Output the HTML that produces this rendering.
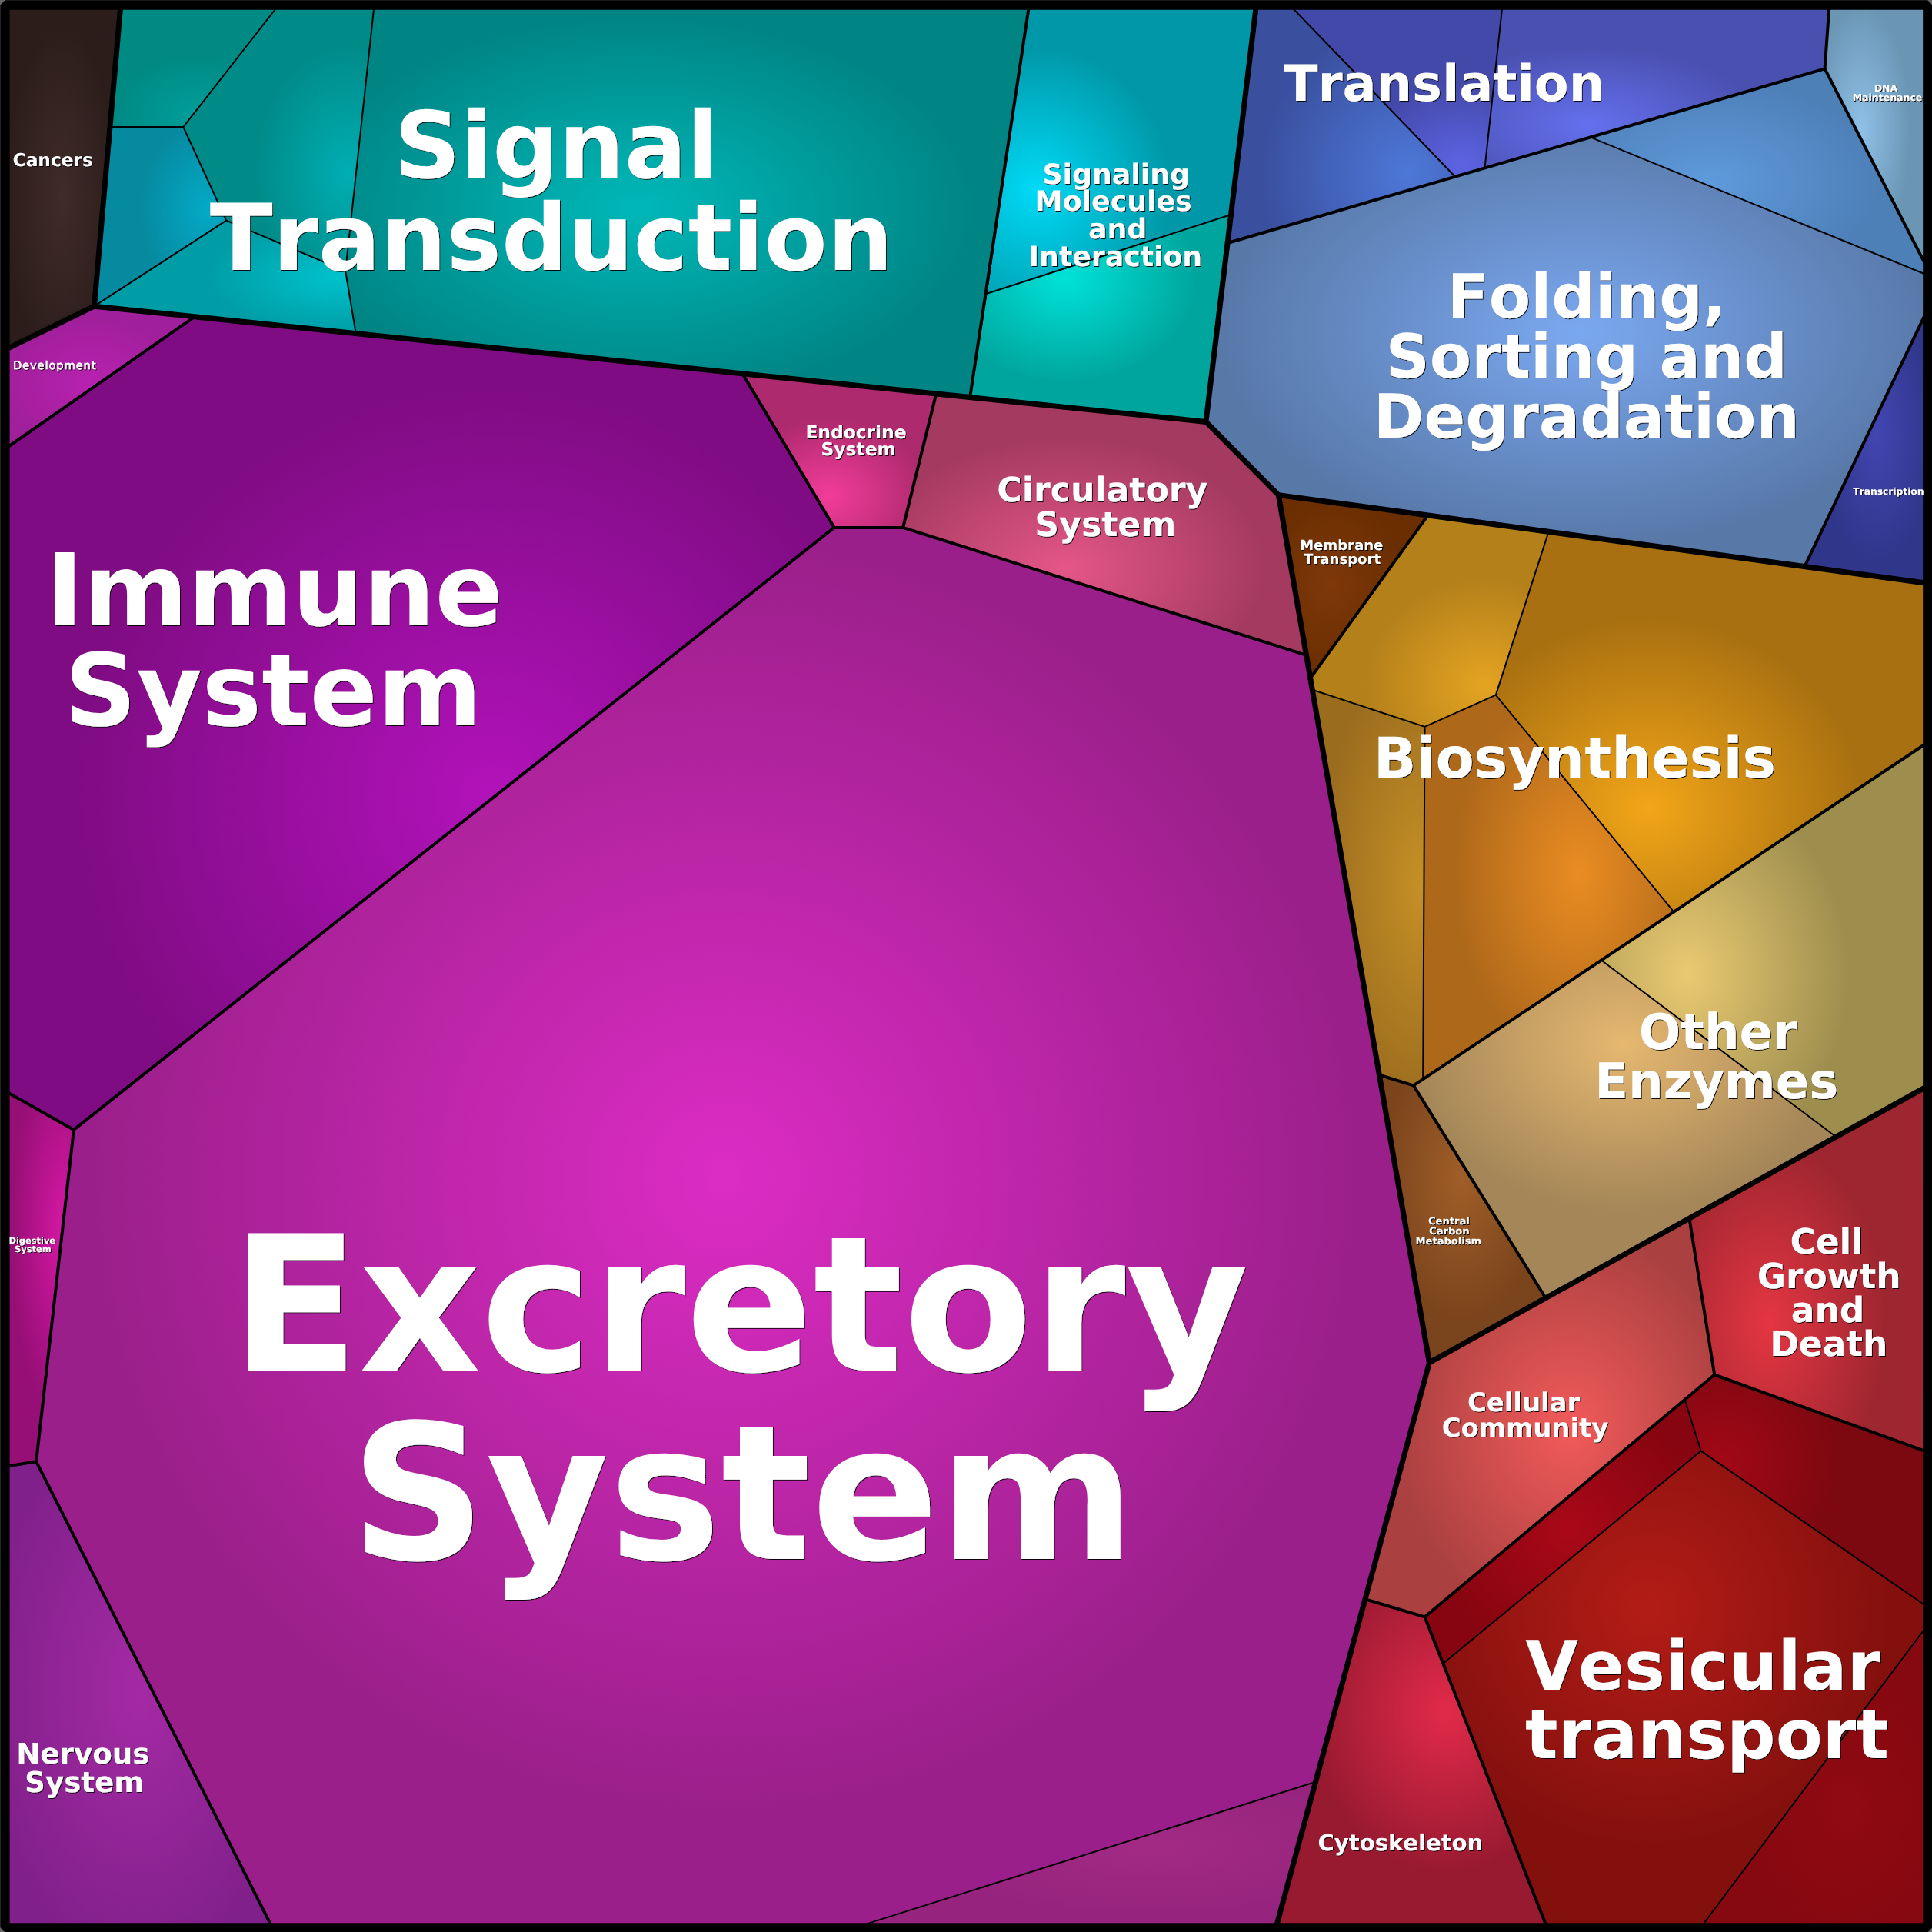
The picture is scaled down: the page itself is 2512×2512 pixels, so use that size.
<!DOCTYPE html>
<html lang="en"><head><meta charset="utf-8"><title>Proteomap</title>
<style>html,body{margin:0;padding:0;background:#676767;}svg{display:block;}text{font-kerning:none;text-rendering:geometricPrecision;font-family:"DejaVu Sans","Liberation Sans",sans-serif;font-weight:bold;text-anchor:middle;}.s{fill:#000;opacity:.92}.t{fill:#fff}</style></head><body>
<svg width="2512" height="2512" viewBox="0 0 2512 2512">
<defs>
<radialGradient id="g_cancers" gradientUnits="userSpaceOnUse" cx="0" cy="0" r="0.500" gradientTransform="translate(80 255) scale(144.0 439.5)"><stop offset="0" stop-color="#402c29"/><stop offset="1" stop-color="#2c1d1b"/></radialGradient>
<radialGradient id="g_sig_a" gradientUnits="userSpaceOnUse" cx="0" cy="0" r="0.500" gradientTransform="translate(255 150) scale(214.9 152.7)"><stop offset="0" stop-color="#009e9a"/><stop offset="1" stop-color="#008a84"/></radialGradient>
<radialGradient id="g_sig_b" gradientUnits="userSpaceOnUse" cx="0" cy="0" r="0.500" gradientTransform="translate(268 272) scale(171.7 233.1)"><stop offset="0" stop-color="#04a9c6"/><stop offset="1" stop-color="#068aa0"/></radialGradient>
<radialGradient id="g_sig_c" gradientUnits="userSpaceOnUse" cx="0" cy="0" r="0.500" gradientTransform="translate(452 225) scale(247.7 340.3)"><stop offset="0" stop-color="#00aeb2"/><stop offset="1" stop-color="#008a88"/></radialGradient>
<radialGradient id="g_sig_d" gradientUnits="userSpaceOnUse" cx="0" cy="0" r="0.500" gradientTransform="translate(440 360) scale(340.2 146.8)"><stop offset="0" stop-color="#00c2cc"/><stop offset="1" stop-color="#009da6"/></radialGradient>
<radialGradient id="g_sig_e" gradientUnits="userSpaceOnUse" cx="0" cy="0" r="0.500" gradientTransform="translate(830 270) scale(888.1 504.1)"><stop offset="0" stop-color="#00b8b8"/><stop offset="1" stop-color="#008484"/></radialGradient>
<radialGradient id="g_sm_a" gradientUnits="userSpaceOnUse" cx="0" cy="0" r="0.500" gradientTransform="translate(1347 247) scale(350.2 369.6)"><stop offset="0" stop-color="#00daf6"/><stop offset="1" stop-color="#0098a8"/></radialGradient>
<radialGradient id="g_sm_b" gradientUnits="userSpaceOnUse" cx="0" cy="0" r="0.500" gradientTransform="translate(1386 361) scale(339.4 269.4)"><stop offset="0" stop-color="#00e2d8"/><stop offset="1" stop-color="#00a69e"/></radialGradient>
<radialGradient id="g_tr_a" gradientUnits="userSpaceOnUse" cx="0" cy="0" r="0.650" gradientTransform="translate(1830 225) scale(295.8 303.6)"><stop offset="0" stop-color="#4d78d8"/><stop offset="1" stop-color="#3a4f9e"/></radialGradient>
<radialGradient id="g_tr_b" gradientUnits="userSpaceOnUse" cx="0" cy="0" r="0.500" gradientTransform="translate(1900 215) scale(270.4 217.3)"><stop offset="0" stop-color="#5d64e4"/><stop offset="1" stop-color="#4349a8"/></radialGradient>
<radialGradient id="g_tr_c" gradientUnits="userSpaceOnUse" cx="0" cy="0" r="0.500" gradientTransform="translate(2066 162) scale(447.6 206.0)"><stop offset="0" stop-color="#6470ee"/><stop offset="1" stop-color="#4a50b0"/></radialGradient>
<radialGradient id="g_fold_a" gradientUnits="userSpaceOnUse" cx="0" cy="0" r="0.500" gradientTransform="translate(2053 432) scale(932.4 557.5)"><stop offset="0" stop-color="#7aa8f0"/><stop offset="1" stop-color="#5878a8"/></radialGradient>
<radialGradient id="g_fold_b" gradientUnits="userSpaceOnUse" cx="0" cy="0" r="0.500" gradientTransform="translate(2225 237) scale(432.7 265.9)"><stop offset="0" stop-color="#5e9adc"/><stop offset="1" stop-color="#4e80b8"/></radialGradient>
<radialGradient id="g_dna" gradientUnits="userSpaceOnUse" cx="0" cy="0" r="0.500" gradientTransform="translate(2420 169) scale(127.8 325.6)"><stop offset="0" stop-color="#90c0e8"/><stop offset="1" stop-color="#6a96b4"/></radialGradient>
<radialGradient id="g_transc" gradientUnits="userSpaceOnUse" cx="0" cy="0" r="0.500" gradientTransform="translate(2440 560) scale(153.7 343.1)"><stop offset="0" stop-color="#4246b2"/><stop offset="1" stop-color="#30368a"/></radialGradient>
<radialGradient id="g_devel" gradientUnits="userSpaceOnUse" cx="0" cy="0" r="0.500" gradientTransform="translate(120 500) scale(240.6 181.4)"><stop offset="0" stop-color="#b822b0"/><stop offset="1" stop-color="#a01f9a"/></radialGradient>
<radialGradient id="g_immune" gradientUnits="userSpaceOnUse" cx="0" cy="0" r="0.500" gradientTransform="translate(640 1035) scale(1072.3 1057.1)"><stop offset="0" stop-color="#b212ba"/><stop offset="1" stop-color="#800c84"/></radialGradient>
<radialGradient id="g_endo" gradientUnits="userSpaceOnUse" cx="0" cy="0" r="0.500" gradientTransform="translate(1078 644) scale(251.9 200.1)"><stop offset="0" stop-color="#f23c9a"/><stop offset="1" stop-color="#ae2a6e"/></radialGradient>
<radialGradient id="g_circ" gradientUnits="userSpaceOnUse" cx="0" cy="0" r="0.500" gradientTransform="translate(1385 738) scale(523.9 339.7)"><stop offset="0" stop-color="#e45688"/><stop offset="1" stop-color="#a43a60"/></radialGradient>
<radialGradient id="g_excr" gradientUnits="userSpaceOnUse" cx="0" cy="0" r="0.460" gradientTransform="translate(942 1530) scale(1811.3 1814.5)"><stop offset="0" stop-color="#dc2cc4"/><stop offset="1" stop-color="#9a1f8a"/></radialGradient>
<radialGradient id="g_excr_b" gradientUnits="userSpaceOnUse" cx="0" cy="0" r="0.500" gradientTransform="translate(1500 2400) scale(579.8 183.4)"><stop offset="0" stop-color="#a22a84"/><stop offset="1" stop-color="#96247e"/></radialGradient>
<radialGradient id="g_digest" gradientUnits="userSpaceOnUse" cx="0" cy="0" r="0.500" gradientTransform="translate(86 1600) scale(144.0 500.0)"><stop offset="0" stop-color="#d818a6"/><stop offset="1" stop-color="#960f76"/></radialGradient>
<radialGradient id="g_nervous" gradientUnits="userSpaceOnUse" cx="0" cy="0" r="0.620" gradientTransform="translate(182 2200) scale(338.6 600.1)"><stop offset="0" stop-color="#a42aa4"/><stop offset="1" stop-color="#80208a"/></radialGradient>
<radialGradient id="g_membr" gradientUnits="userSpaceOnUse" cx="0" cy="0" r="0.500" gradientTransform="translate(1730 760) scale(194.7 239.2)"><stop offset="0" stop-color="#7e380a"/><stop offset="1" stop-color="#6a2e00"/></radialGradient>
<radialGradient id="g_bio_a" gradientUnits="userSpaceOnUse" cx="0" cy="0" r="0.500" gradientTransform="translate(1930 890) scale(310.7 275.5)"><stop offset="0" stop-color="#e4a422"/><stop offset="1" stop-color="#b4801a"/></radialGradient>
<radialGradient id="g_bio_b" gradientUnits="userSpaceOnUse" cx="0" cy="0" r="0.500" gradientTransform="translate(2144 1051) scale(555.6 494.9)"><stop offset="0" stop-color="#f2a518"/><stop offset="1" stop-color="#a87010"/></radialGradient>
<radialGradient id="g_bio_c" gradientUnits="userSpaceOnUse" cx="0" cy="0" r="0.500" gradientTransform="translate(1850 1150) scale(270.0 600.0)"><stop offset="0" stop-color="#c69026"/><stop offset="1" stop-color="#9a6c1e"/></radialGradient>
<radialGradient id="g_bio_d" gradientUnits="userSpaceOnUse" cx="0" cy="0" r="0.500" gradientTransform="translate(2053 1135) scale(326.1 499.6)"><stop offset="0" stop-color="#ea8c22"/><stop offset="1" stop-color="#ae681a"/></radialGradient>
<radialGradient id="g_oe_a" gradientUnits="userSpaceOnUse" cx="0" cy="0" r="0.500" gradientTransform="translate(2111 1357) scale(549.2 438.7)"><stop offset="0" stop-color="#e6b870"/><stop offset="1" stop-color="#a48658"/></radialGradient>
<radialGradient id="g_oe_b" gradientUnits="userSpaceOnUse" cx="0" cy="0" r="0.500" gradientTransform="translate(2193 1266) scale(418.4 508.7)"><stop offset="0" stop-color="#eaca72"/><stop offset="1" stop-color="#9e8e4e"/></radialGradient>
<radialGradient id="g_ccm" gradientUnits="userSpaceOnUse" cx="0" cy="0" r="0.500" gradientTransform="translate(1900 1532) scale(216.4 374.3)"><stop offset="0" stop-color="#a05e28"/><stop offset="1" stop-color="#7a441c"/></radialGradient>
<radialGradient id="g_cgd" gradientUnits="userSpaceOnUse" cx="0" cy="0" r="0.500" gradientTransform="translate(2300 1721) scale(304.1 470.7)"><stop offset="0" stop-color="#e43642"/><stop offset="1" stop-color="#9e2630"/></radialGradient>
<radialGradient id="g_ccom" gradientUnits="userSpaceOnUse" cx="0" cy="0" r="0.500" gradientTransform="translate(2040 1857) scale(455.1 519.0)"><stop offset="0" stop-color="#f25a5a"/><stop offset="1" stop-color="#aa4040"/></radialGradient>
<radialGradient id="g_cyto" gradientUnits="userSpaceOnUse" cx="0" cy="0" r="0.500" gradientTransform="translate(1880 2225) scale(348.4 421.4)"><stop offset="0" stop-color="#e22a4a"/><stop offset="1" stop-color="#981a30"/></radialGradient>
<radialGradient id="g_ves_a" gradientUnits="userSpaceOnUse" cx="0" cy="0" r="0.500" gradientTransform="translate(2040 1990) scale(359.2 342.9)"><stop offset="0" stop-color="#aa0818"/><stop offset="1" stop-color="#860510"/></radialGradient>
<radialGradient id="g_ves_b" gradientUnits="userSpaceOnUse" cx="0" cy="0" r="0.500" gradientTransform="translate(2240 1900) scale(309.9 298.0)"><stop offset="0" stop-color="#a20816"/><stop offset="1" stop-color="#7c0810"/></radialGradient>
<radialGradient id="g_ves_c" gradientUnits="userSpaceOnUse" cx="0" cy="0" r="0.500" gradientTransform="translate(2144 2092) scale(623.9 613.8)"><stop offset="0" stop-color="#b41c16"/><stop offset="1" stop-color="#84100e"/></radialGradient>
<radialGradient id="g_ves_d" gradientUnits="userSpaceOnUse" cx="0" cy="0" r="0.500" gradientTransform="translate(2400 2350) scale(284.8 379.8)"><stop offset="0" stop-color="#900a12"/><stop offset="1" stop-color="#860810"/></radialGradient>
<filter id="sh" filterUnits="userSpaceOnUse" x="0" y="0" width="2512" height="2512"><feOffset in="SourceAlpha" dx="1" dy="1" result="o"/><feComponentTransfer in="o" result="s"><feFuncA type="linear" slope="0.92"/></feComponentTransfer><feMerge><feMergeNode in="s"/><feMergeNode in="SourceGraphic"/></feMerge></filter>
</defs>
<rect x="0" y="0" width="2512" height="2512" fill="#676767"/>
<rect x="6.5" y="6.5" width="2499.8" height="2499.8" fill="#000" stroke="#000" stroke-width="11.8" stroke-linejoin="bevel"/>
<g>
<polygon points="12.4,12.4 156.4,12.4 122.5,398.2 12.4,451.9" fill="url(#g_cancers)"/>
<polygon points="156.4,12.4 357.6,12.4 238.3,165.1 142.7,165.1" fill="url(#g_sig_a)"/>
<polygon points="142.7,165.1 238.3,165.1 294.2,286.7 122.5,398.2" fill="url(#g_sig_b)"/>
<polygon points="357.6,12.4 486.0,12.4 449.2,352.7 294.2,286.7 238.3,165.1" fill="url(#g_sig_c)"/>
<polygon points="122.5,398.2 294.2,286.7 449.2,352.7 462.7,433.5" fill="url(#g_sig_d)"/>
<polygon points="486.0,12.4 1337.3,12.4 1261.2,516.5 462.7,433.5 449.2,352.7" fill="url(#g_sig_e)"/>
<polygon points="1337.3,12.4 1632.7,12.4 1600.6,279.0 1282.5,382.0" fill="url(#g_sm_a)"/>
<polygon points="1282.5,382.0 1600.6,279.0 1568.0,548.4 1261.2,516.5" fill="url(#g_sm_b)"/>
<polygon points="1632.7,12.4 1682.5,12.4 1892.0,229.7 1596.2,316.0" fill="url(#g_tr_a)"/>
<polygon points="1682.5,12.4 1952.9,12.4 1930.5,218.4 1892.0,229.7" fill="url(#g_tr_b)"/>
<polygon points="1952.9,12.4 2378.1,12.4 2372.6,89.4 1930.5,218.4" fill="url(#g_tr_c)"/>
<polygon points="1596.2,316.0 2067.7,178.4 2500.4,355.3 2500.4,414.4 2346.7,735.9 1662.3,643.6 1568.0,548.4" fill="url(#g_fold_a)"/>
<polygon points="2067.7,178.4 2372.6,89.4 2500.4,338.0 2500.4,355.3" fill="url(#g_fold_b)"/>
<polygon points="2378.1,12.4 2500.4,12.4 2500.4,338.0 2372.6,89.4" fill="url(#g_dna)"/>
<polygon points="2500.4,414.4 2500.4,757.5 2346.7,735.9" fill="url(#g_transc)"/>
<polygon points="122.5,398.2 253.0,411.8 12.4,579.6 12.4,451.9" fill="url(#g_devel)"/>
<polygon points="253.0,411.8 965.4,485.8 1084.7,685.9 95.9,1468.9 12.4,1421.8 12.4,579.6" fill="url(#g_immune)"/>
<polygon points="965.4,485.8 1217.3,512.0 1174.1,685.9 1084.7,685.9" fill="url(#g_endo)"/>
<polygon points="1217.3,512.0 1568.0,548.4 1662.3,643.6 1698.0,851.7 1174.1,685.9" fill="url(#g_circ)"/>
<polygon points="1084.7,685.9 1174.1,685.9 1698.0,851.7 1858.4,1771.8 1710.0,2317.0 1130.2,2500.4 351.0,2500.4 47.1,1900.3 95.9,1468.9" fill="url(#g_excr)"/>
<polygon points="1710.0,2317.0 1660.7,2500.4 1130.2,2500.4" fill="url(#g_excr_b)"/>
<polygon points="12.4,1421.8 95.9,1468.9 47.1,1900.3 12.4,1906.1" fill="url(#g_digest)"/>
<polygon points="12.4,1906.1 47.1,1900.3 351.0,2500.4 12.4,2500.4" fill="url(#g_nervous)"/>
<polygon points="1662.3,643.6 1857.0,669.4 1703.0,882.8" fill="url(#g_membr)"/>
<polygon points="1857.0,669.4 2013.7,690.7 1944.8,903.6 1852.5,944.9 1706.3,896.8 1703.0,882.8" fill="url(#g_bio_a)"/>
<polygon points="2013.7,690.7 2500.4,757.5 2500.4,969.3 2176.3,1185.6 1944.8,903.6" fill="url(#g_bio_b)"/>
<polygon points="1706.3,896.8 1852.5,944.9 1850.2,1403.2 1837.9,1411.4 1792.9,1397.5" fill="url(#g_bio_c)"/>
<polygon points="1852.5,944.9 1944.8,903.6 2176.3,1185.6 1850.2,1403.2" fill="url(#g_bio_d)"/>
<polygon points="2082.0,1248.5 2387.1,1478.0 2009.3,1687.2 1837.9,1411.4" fill="url(#g_oe_a)"/>
<polygon points="2500.4,969.3 2500.4,1415.3 2387.1,1478.0 2082.0,1248.5" fill="url(#g_oe_b)"/>
<polygon points="1792.9,1397.5 1837.9,1411.4 2009.3,1687.2 1858.4,1771.8" fill="url(#g_ccm)"/>
<polygon points="2196.3,1583.4 2500.4,1415.3 2500.4,1886.0 2229.2,1787.5" fill="url(#g_cgd)"/>
<polygon points="1858.4,1771.8 2196.3,1583.4 2229.2,1787.5 1852.5,2102.4 1774.1,2079.0" fill="url(#g_ccom)"/>
<polygon points="1774.1,2079.0 1852.5,2102.4 2009.1,2500.4 1660.7,2500.4" fill="url(#g_cyto)"/>
<polygon points="2190.5,1819.9 2211.7,1886.6 1876.5,2162.8 1852.5,2102.4" fill="url(#g_ves_a)"/>
<polygon points="2229.2,1787.5 2500.4,1886.0 2500.4,2085.5 2211.7,1886.6 2190.5,1819.9" fill="url(#g_ves_b)"/>
<polygon points="2211.7,1886.6 2500.4,2085.5 2500.4,2120.6 2215.6,2500.4 2009.1,2500.4 1876.5,2162.8" fill="url(#g_ves_c)"/>
<polygon points="2500.4,2120.6 2500.4,2500.4 2215.6,2500.4" fill="url(#g_ves_d)"/>
</g>
<path d="M156.8 7.4L122.5 398.2M122.5 398.2L7.9 454.1M360.7 8.5L238.3 165.1M238.3 165.1L142.7 165.1M142.7 165.1L156.8 7.4M238.3 165.1L294.2 286.7M294.2 286.7L122.5 398.2M122.5 398.2L142.7 165.1M486.5 7.4L449.2 352.7M449.2 352.7L294.2 286.7M449.2 352.7L462.7 433.5M462.7 433.5L122.5 398.2M1338.0 7.5L1261.2 516.5M1261.2 516.5L462.7 433.5M1633.3 7.4L1600.6 279.0M1600.6 279.0L1282.5 382.0M1282.5 382.0L1338.0 7.5M1600.6 279.0L1568.0 548.4M1568.0 548.4L1261.2 516.5M1261.2 516.5L1282.5 382.0M1679.0 8.8L1892.0 229.7M1892.0 229.7L1596.2 316.0M1596.2 316.0L1633.3 7.4M1953.4 7.4L1930.5 218.4M1930.5 218.4L1892.0 229.7M2378.5 7.4L2372.6 89.4M2372.6 89.4L1930.5 218.4M1596.2 316.0L2067.7 178.4M2067.7 178.4L2505.0 357.2M2502.6 409.9L2346.7 735.9M2346.7 735.9L1662.3 643.6M1662.3 643.6L1568.0 548.4M1568.0 548.4L1596.2 316.0M2067.7 178.4L2372.6 89.4M2372.6 89.4L2502.7 342.4M2505.4 758.2L2346.7 735.9M122.5 398.2L253.0 411.8M253.0 411.8L8.3 582.5M253.0 411.8L965.4 485.8M965.4 485.8L1084.7 685.9M1084.7 685.9L95.9 1468.9M95.9 1468.9L8.0 1419.3M965.4 485.8L1217.3 512.0M1217.3 512.0L1174.1 685.9M1174.1 685.9L1084.7 685.9M1217.3 512.0L1568.0 548.4M1662.3 643.6L1698.0 851.7M1698.0 851.7L1174.1 685.9M1698.0 851.7L1858.4 1771.8M1858.4 1771.8L1710.0 2317.0M1710.0 2317.0L1125.4 2501.9M353.3 2504.9L47.1 1900.3M47.1 1900.3L95.9 1468.9M1710.0 2317.0L1659.4 2505.2M47.1 1900.3L7.5 1906.9M1662.3 643.6L1857.0 669.4M1857.0 669.4L1703.0 882.8M1703.0 882.8L1662.3 643.6M1857.0 669.4L2013.7 690.7M2013.7 690.7L1944.8 903.6M1944.8 903.6L1852.5 944.9M1852.5 944.9L1706.3 896.8M1706.3 896.8L1703.0 882.8M2013.7 690.7L2505.4 758.2M2504.6 966.5L2176.3 1185.6M2176.3 1185.6L1944.8 903.6M1852.5 944.9L1850.2 1403.2M1850.2 1403.2L1837.9 1411.4M1837.9 1411.4L1792.9 1397.5M1792.9 1397.5L1706.3 896.8M2176.3 1185.6L1850.2 1403.2M2082.0 1248.5L2387.1 1478.0M2387.1 1478.0L2009.3 1687.2M2009.3 1687.2L1837.9 1411.4M1837.9 1411.4L2082.0 1248.5M2504.8 1412.9L2387.1 1478.0M2082.0 1248.5L2504.6 966.5M2009.3 1687.2L1858.4 1771.8M1858.4 1771.8L1792.9 1397.5M2196.3 1583.4L2504.8 1412.9M2505.1 1887.7L2229.2 1787.5M2229.2 1787.5L2196.3 1583.4M1858.4 1771.8L2196.3 1583.4M2229.2 1787.5L1852.5 2102.4M1852.5 2102.4L1774.1 2079.0M1774.1 2079.0L1858.4 1771.8M1852.5 2102.4L2010.9 2505.1M1659.4 2505.2L1774.1 2079.0M2190.5 1819.9L2211.7 1886.6M2211.7 1886.6L1876.5 2162.8M1876.5 2162.8L1852.5 2102.4M1852.5 2102.4L2190.5 1819.9M2504.5 2088.3L2211.7 1886.6M2190.5 1819.9L2229.2 1787.5M2503.4 2116.6L2212.6 2504.4M2010.9 2505.1L1876.5 2162.8" fill="none" stroke="#000" stroke-width="2.00" stroke-linecap="round"/>
<path d="M156.8 7.4L122.5 398.2M122.5 398.2L7.9 454.1M1338.0 7.5L1261.2 516.5M1261.2 516.5L122.5 398.2M1633.3 7.4L1568.0 548.4M1568.0 548.4L1261.2 516.5M2378.5 7.4L2372.6 89.4M2372.6 89.4L1596.2 316.0M1596.2 316.0L1633.3 7.4M2372.6 89.4L2502.7 342.4M2502.6 409.9L2346.7 735.9M2346.7 735.9L1662.3 643.6M1662.3 643.6L1568.0 548.4M1568.0 548.4L1596.2 316.0M2505.4 758.2L2346.7 735.9M122.5 398.2L253.0 411.8M253.0 411.8L8.3 582.5M253.0 411.8L965.4 485.8M965.4 485.8L1084.7 685.9M1084.7 685.9L95.9 1468.9M95.9 1468.9L8.0 1419.3M965.4 485.8L1217.3 512.0M1217.3 512.0L1174.1 685.9M1174.1 685.9L1084.7 685.9M1217.3 512.0L1568.0 548.4M1662.3 643.6L1698.0 851.7M1698.0 851.7L1174.1 685.9M1698.0 851.7L1858.4 1771.8M1858.4 1771.8L1659.4 2505.2M353.3 2504.9L47.1 1900.3M47.1 1900.3L95.9 1468.9M47.1 1900.3L7.5 1906.9M1662.3 643.6L1857.0 669.4M1857.0 669.4L1703.0 882.8M1703.0 882.8L1662.3 643.6M1857.0 669.4L2505.4 758.2M2504.6 966.5L1837.9 1411.4M1837.9 1411.4L1792.9 1397.5M1792.9 1397.5L1703.0 882.8M2504.8 1412.9L2009.3 1687.2M2009.3 1687.2L1837.9 1411.4M2009.3 1687.2L1858.4 1771.8M1858.4 1771.8L1792.9 1397.5M2196.3 1583.4L2504.8 1412.9M2505.1 1887.7L2229.2 1787.5M2229.2 1787.5L2196.3 1583.4M1858.4 1771.8L2196.3 1583.4M2229.2 1787.5L1852.5 2102.4M1852.5 2102.4L1774.1 2079.0M1774.1 2079.0L1858.4 1771.8M1852.5 2102.4L2010.9 2505.1M1659.4 2505.2L1774.1 2079.0" fill="none" stroke="#000" stroke-width="4.00" stroke-linecap="round"/>
<path d="M156.8 7.4L122.5 398.2M122.5 398.2L7.9 454.1M1633.3 7.4L1568.0 548.4M1568.0 548.4L122.5 398.2M2505.4 758.2L1662.3 643.6M1662.3 643.6L1568.0 548.4M1662.3 643.6L1858.4 1771.8M1858.4 1771.8L1659.4 2505.2M2504.8 1412.9L1858.4 1771.8" fill="none" stroke="#000" stroke-width="7.00" stroke-linecap="round"/>
<rect x="6.5" y="6.5" width="2499.8" height="2499.8" fill="none" stroke="#000" stroke-width="11.8" stroke-linejoin="bevel"/>
<g filter="url(#sh)">
<text class="t" x="68.7" y="215.8" font-size="23.25">Cancers</text>
<text class="t" x="723.2" y="231.2" font-size="120.14">Signal</text>
<text class="t" x="717.0" y="351.0" font-size="120.14">Transduction</text>
<text class="t" x="71.2" y="480.2" font-size="14.60" style="font-weight:normal;letter-spacing:0.93px" stroke="#fff" stroke-width="0.5">Development</text>
<text class="t" x="1113.0" y="569.5" font-size="23.36">Endocrine</text>
<text class="t" x="1116.2" y="592.3" font-size="23.36">System</text>
<text class="t" x="357.0" y="812.6" font-size="130.32">Immune</text>
<text class="t" x="355.2" y="942.7" font-size="130.32">System</text>
<text class="t" x="1451.2" y="238.5" font-size="36.28">Signaling</text>
<text class="t" x="1447.6" y="273.5" font-size="36.28">Molecules</text>
<text class="t" x="1453.1" y="309.5" font-size="36.28">and</text>
<text class="t" x="1450.4" y="345.5" font-size="36.28">Interaction</text>
<text class="t" x="1877.5" y="131.0" font-size="65.25">Translation</text>
<text class="t" x="2452.0" y="119.4" font-size="12.50">DNA</text>
<text class="t" x="2454.0" y="131.0" font-size="12.50">Maintenance</text>
<text class="t" x="2062.9" y="413.2" font-size="79.13">Folding,</text>
<text class="t" x="2062.9" y="491.0" font-size="79.13">Sorting and</text>
<text class="t" x="2062.8" y="569.3" font-size="79.13">Degradation</text>
<text class="t" x="2455.4" y="642.5" font-size="12.26">Transcription</text>
<text class="t" x="1433.4" y="652.3" font-size="44.19">Circulatory</text>
<text class="t" x="1437.3" y="696.8" font-size="44.19">System</text>
<text class="t" x="1744.2" y="715.3" font-size="18.08">Membrane</text>
<text class="t" x="1745.1" y="732.5" font-size="18.08">Transport</text>
<text class="t" x="2047.4" y="1010.8" font-size="73.17">Biosynthesis</text>
<text class="t" x="41.8" y="1616.8" font-size="11.42">Digestive</text>
<text class="t" x="42.8" y="1628.3" font-size="11.42">System</text>
<text class="t" x="107.8" y="2293.4" font-size="37.21">Nervous</text>
<text class="t" x="109.6" y="2330.2" font-size="37.21">System</text>
<text class="t" x="961.5" y="1782.3" font-size="245.04">Excretory</text>
<text class="t" x="965.8" y="2027.0" font-size="245.04">System</text>
<text class="t" x="2233.7" y="1363.6" font-size="64.14">Other</text>
<text class="t" x="2231.8" y="1427.8" font-size="64.14">Enzymes</text>
<text class="t" x="1883.9" y="1591.7" font-size="13.07">Central</text>
<text class="t" x="1884.3" y="1604.5" font-size="13.07">Carbon</text>
<text class="t" x="1883.4" y="1617.5" font-size="13.07">Metabolism</text>
<text class="t" x="2375.1" y="1630.3" font-size="45.44">Cell</text>
<text class="t" x="2378.2" y="1674.6" font-size="45.44">Growth</text>
<text class="t" x="2376.6" y="1718.6" font-size="45.44">and</text>
<text class="t" x="2377.8" y="1763.0" font-size="45.44">Death</text>
<text class="t" x="1981.0" y="1835.4" font-size="33.85">Cellular</text>
<text class="t" x="1983.0" y="1868.0" font-size="33.85">Community</text>
<text class="t" x="1820.9" y="2406.4" font-size="29.08">Cytoskeleton</text>
<text class="t" x="2214.2" y="2197.2" font-size="88.77">Vesicular</text>
<text class="t" x="2219.4" y="2286.4" font-size="88.77">transport</text>
</g>
</svg></body></html>
